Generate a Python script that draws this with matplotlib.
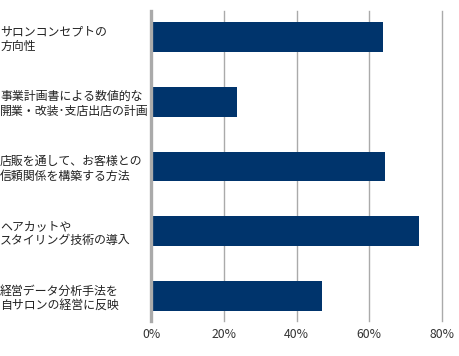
import numpy as np
import matplotlib.pyplot as plt

plt.rcParams['font.family'] = ['Noto Sans CJK JP', 'DejaVu Sans']

labels = ["サロンコンセプトの\n方向性",
          "事業計画書による数値的な\n開業・改装･支店出店の計画",
          "店販を通して、お客様との\n信頼関係を構築する方法",
          "ヘアカットや\nスタイリング技術の導入",
          "経営データ分析手法を\n自サロンの経営に反映"]
values = [63.8, 23.6, 64.4, 73.7, 47.0]
xticks = [0, 20, 40, 60, 80]

W, H = 460, 356
fig = plt.figure(figsize=(W / 100, H / 100), dpi=100)
left, right = 151.5, 441.7
top, bottom = 11, 321
ax = fig.add_axes([left / W, 1 - bottom / H, (right - left) / W, (bottom - top) / H])

pos = np.arange(len(labels))
ax.barh(pos, values, height=0.463, color="#00346c", zorder=3)
ax.set_xlim(0, 80)
ax.set_ylim(4.386, -0.4015)

ax.set_xticks(xticks)
ax.set_xticklabels(["%d%%" % v for v in xticks], fontsize=8.8, color="#333333")
ax.tick_params(axis="x", length=0, pad=5)
ax.grid(axis="x", color="#aaaaaa", linewidth=1, zorder=1)
for g in ax.get_xgridlines():
    g.set_clip_on(False)

ax.set_yticks(pos)
ax.set_yticklabels(labels, fontsize=8.6, color="#222222", ha="left",
                   linespacing=1.15)
ax.tick_params(axis="y", length=0, pad=109)

for s in ax.spines.values():
    s.set_visible(False)
ax.axvline(0, color="#aaaaaa", linewidth=2.4, zorder=4, clip_on=False)

fig.savefig("out.png", dpi=100)
